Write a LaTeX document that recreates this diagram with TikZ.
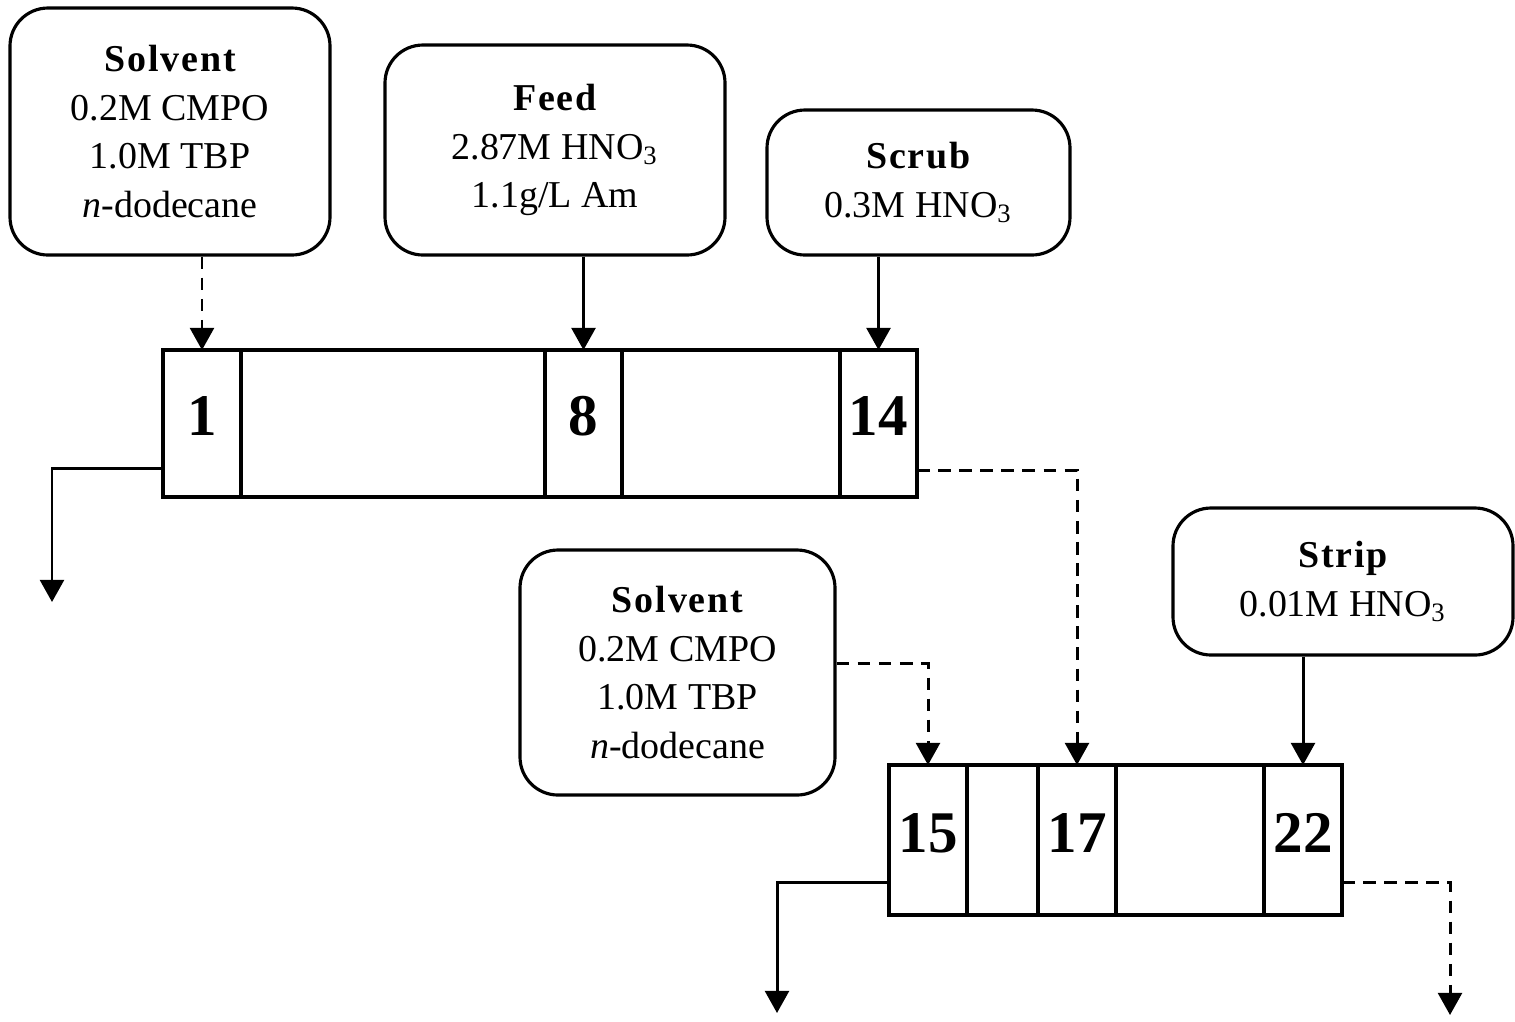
\documentclass[tikz,border=0pt]{standalone}
\usepackage{fontspec}
\setmainfont{Liberation Serif}
\usepackage{tikz}
\usetikzlibrary{shapes}
\usetikzlibrary{arrows.meta}
\newcommand{\hdr}[1]{{\bfseries\addfontfeature{LetterSpace=5}#1}}

\begin{document}
\begin{tikzpicture}

\tikzset{feedbox/.style = {shape=rectangle,draw,rounded corners=0.38cm,line width=0.9pt,align=center,inner sep=0pt,font=\fontsize{10.8}{13.9}\selectfont}}
\tikzset{stage/.style = {shape=rectangle,draw,line width=0.9pt,inner sep=0pt,outer sep=0pt,text depth=0.15cm,font=\fontsize{16.8}{18}\selectfont\bfseries}}
\tikzset{edge/.style = {-{Triangle[width=6.8pt,length=6.3pt]},line width=0.85pt}}
\tikzset{dashedge/.style = {edge,dash pattern=on 3.6pt off 2.4pt}}

\useasboundingbox (0,0) rectangle (15.15,-10.21);

% streams
\node[feedbox,minimum width=3.2cm,minimum height=2.47cm] (solv1) at (1.70,-1.315) {\hdr{Solvent}\\0.2M CMPO\\1.0M TBP\\\textit{n}-dodecane};
\node[feedbox,minimum width=3.4cm,minimum height=2.1cm] (feed) at (5.55,-1.50) {\hdr{Feed}\\2.87M HNO\textsubscript{3}\\1.1g/L Am};
\node[feedbox,minimum width=3.03cm,minimum height=1.45cm] (scrub) at (9.185,-1.825) {\hdr{Scrub}\\0.3M HNO\textsubscript{3}};
\node[feedbox,minimum width=3.15cm,minimum height=2.45cm] (solv2) at (6.775,-6.725) {\hdr{Solvent}\\0.2M CMPO\\1.0M TBP\\\textit{n}-dodecane};
\node[feedbox,minimum width=3.4cm,minimum height=1.47cm] (strip) at (13.43,-5.815) {\hdr{Strip}\\0.01M HNO\textsubscript{3}};

% stages
\node[stage,minimum width=0.78cm,minimum height=1.47cm] (s1) at (2.02,-4.235) {1};
\node[stage,minimum width=3.04cm,minimum height=1.47cm] (s2to7) at (3.93,-4.235) {};
\node[stage,minimum width=0.77cm,minimum height=1.47cm] (s8) at (5.835,-4.235) {8};
\node[stage,minimum width=2.18cm,minimum height=1.47cm] (s9to13) at (7.31,-4.235) {};
\node[stage,minimum width=0.77cm,minimum height=1.47cm] (s14) at (8.785,-4.235) {14};

\node[stage,minimum width=0.78cm,minimum height=1.50cm] (s15) at (9.28,-8.40) {15};
\node[stage,minimum width=0.71cm,minimum height=1.50cm] (s16) at (10.025,-8.40) {};
\node[stage,minimum width=0.78cm,minimum height=1.50cm] (s17) at (10.77,-8.40) {17};
\node[stage,minimum width=1.48cm,minimum height=1.50cm] (s18to21) at (11.90,-8.40) {};
\node[stage,minimum width=0.78cm,minimum height=1.50cm] (s22) at (13.03,-8.40) {22};

\coordinate (raff1) at (0.52,-6.02);
\coordinate (raff2) at (7.77,-10.13);
\coordinate (prod) at (14.50,-10.15);

% edges
\draw[dashedge] (s1.north |- solv1.south) -- (s1.north);
\draw[edge] (s8.north |- feed.south) -- (s8.north);
\draw[edge] (s14.north |- scrub.south) -- (s14.north);
\draw[edge] ([yshift=0.29cm]s1.south west) -| (raff1);
\draw[dashedge] ([yshift=0.27cm]s14.south east) -| (s17.north);
\draw[dashedge] ([yshift=0.09cm]solv2.east) -| (s15.north);
\draw[edge] (s22.north |- strip.south) -- (s22.north);
\draw[edge] ([yshift=0.33cm]s15.south west) -| (raff2);
\draw[dashedge] ([yshift=0.33cm]s22.south east) -| (prod);
\end{tikzpicture}
\end{document}
